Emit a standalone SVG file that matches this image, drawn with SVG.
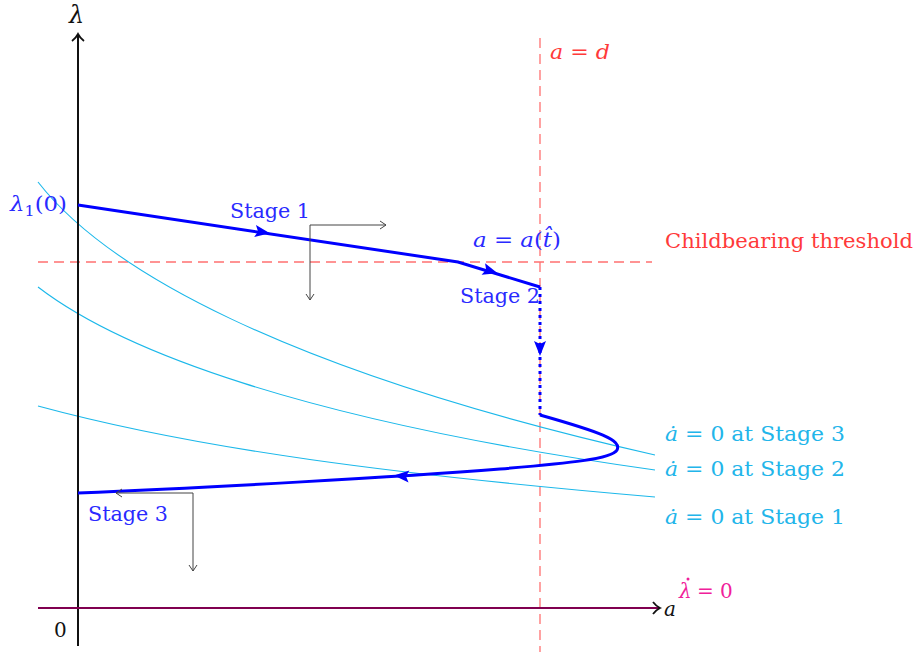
<svg xmlns="http://www.w3.org/2000/svg" width="920" height="652" viewBox="0 0 920 652">
<defs>
<style>
text{font-family:"DejaVu Serif","Liberation Serif",serif;font-size:20px}
.it{font-style:italic}
.blue{fill:#2a2aff}
.cyan{fill:#22b5ea}
.red{fill:#ff3a3a}
.mag{fill:#f0209a}
.blk{fill:#111}
.path{fill:none;stroke:#0000ff;stroke-width:3}
.nc{fill:none;stroke:#1cb8ea;stroke-width:1.1}
.rd{fill:none;stroke:#ff7070;stroke-width:1.3;stroke-dasharray:10 6}
.gr{fill:none;stroke:#444;stroke-width:1}
</style>
<marker id="open" markerWidth="10" markerHeight="10" refX="8" refY="5" orient="auto" markerUnits="userSpaceOnUse">
<path d="M2,1 L8,5 L2,9" fill="none" stroke="#444" stroke-width="1"/>
</marker>
<marker id="axarr" markerWidth="14" markerHeight="14" refX="10" refY="7" orient="auto" markerUnits="userSpaceOnUse">
<path d="M3,1 Q6,5 10,7 Q6,9 3,13" fill="none" stroke="#111" stroke-width="1.8"/>
</marker>
<path id="stealth" d="M8,0 L-7,-6 L-4,0 L-7,6 Z" fill="#0000ff"/>
</defs>

<g id="guides">
<line class="rd" x1="540" y1="38" x2="540" y2="652"/>
<line class="rd" x1="38" y1="262" x2="652" y2="262"/>
</g>

<g id="nullclines">
<path class="nc" d="M38,182 C105,268 280,370 655,455"/>
<path class="nc" d="M38,287 C120,350 300,420 655,470"/>
<path class="nc" d="M38,406 C200,450 400,475 655,497"/>
</g>

<g id="axes">
<line x1="78" y1="646" x2="78" y2="34" stroke="#111" stroke-width="2" marker-end="url(#axarr)"/>
<line x1="38" y1="608" x2="660" y2="608" stroke="#800050" stroke-width="2" marker-end="url(#axarr)"/>
</g>

<g id="connectors">
<path class="path" d="M78,205 L458,262 L540,287"/>
<line x1="540" y1="287" x2="540" y2="415" stroke="#0000ff" stroke-width="3" stroke-dasharray="3 4"/>
<path class="path" d="M540,415 C600,432 622,440 617,450 C612,459 570,463 500,469 C400,477 200,488 78,493"/>
<use href="#stealth" transform="translate(262,232) rotate(8.5)"/>
<use href="#stealth" transform="translate(490,271) rotate(17)"/>
<use href="#stealth" transform="translate(540,348) rotate(90)"/>
<use href="#stealth" transform="translate(402,476) rotate(184)"/>
<path class="gr" d="M310,225 L386,225" marker-end="url(#open)"/>
<path class="gr" d="M310,225 L310,300" marker-end="url(#open)"/>
<path class="gr" d="M193,493 L116,493" marker-end="url(#open)"/>
<path class="gr" d="M193,493 L193,571" marker-end="url(#open)"/>
</g>

<g id="labels">
<text class="blk it" x="69" y="23" style="font-size:24px">λ</text>
<text class="blk it" x="664" y="616">a</text>
<text class="blk" x="54" y="637">0</text>
<text class="blue" x="10" y="211" textLength="57" lengthAdjust="spacingAndGlyphs"><tspan class="it">λ</tspan><tspan style="font-size:14px" dy="5">1</tspan><tspan dy="-5">(0)</tspan></text>
<text class="blue" x="230" y="218" textLength="80" lengthAdjust="spacingAndGlyphs">Stage 1</text>
<text class="blue" x="473" y="247" textLength="88" lengthAdjust="spacingAndGlyphs"><tspan class="it">a</tspan> = <tspan class="it">a</tspan>(<tspan class="it">t̂</tspan>)</text>
<text class="blue" x="460" y="303" textLength="80" lengthAdjust="spacingAndGlyphs">Stage 2</text>
<text class="blue" x="88" y="521" textLength="80" lengthAdjust="spacingAndGlyphs">Stage 3</text>
<text class="red" x="550" y="59" textLength="60" lengthAdjust="spacingAndGlyphs"><tspan class="it">a</tspan> = <tspan class="it">d</tspan></text>
<text class="red" x="665" y="248" textLength="248" lengthAdjust="spacingAndGlyphs">Childbearing threshold</text>
<text class="cyan" x="665" y="441" textLength="180" lengthAdjust="spacingAndGlyphs"><tspan class="it">ȧ</tspan> = 0 at Stage 3</text>
<text class="cyan" x="665" y="476" textLength="180" lengthAdjust="spacingAndGlyphs"><tspan class="it">ȧ</tspan> = 0 at Stage 2</text>
<text class="cyan" x="665" y="524" textLength="180" lengthAdjust="spacingAndGlyphs"><tspan class="it">ȧ</tspan> = 0 at Stage 1</text>
<text class="mag it" x="679" y="598">λ</text>
<text class="mag" x="697" y="598">= 0</text>
<circle cx="688" cy="579" r="1.5" fill="#f0209a"/>
</g>
</svg>
